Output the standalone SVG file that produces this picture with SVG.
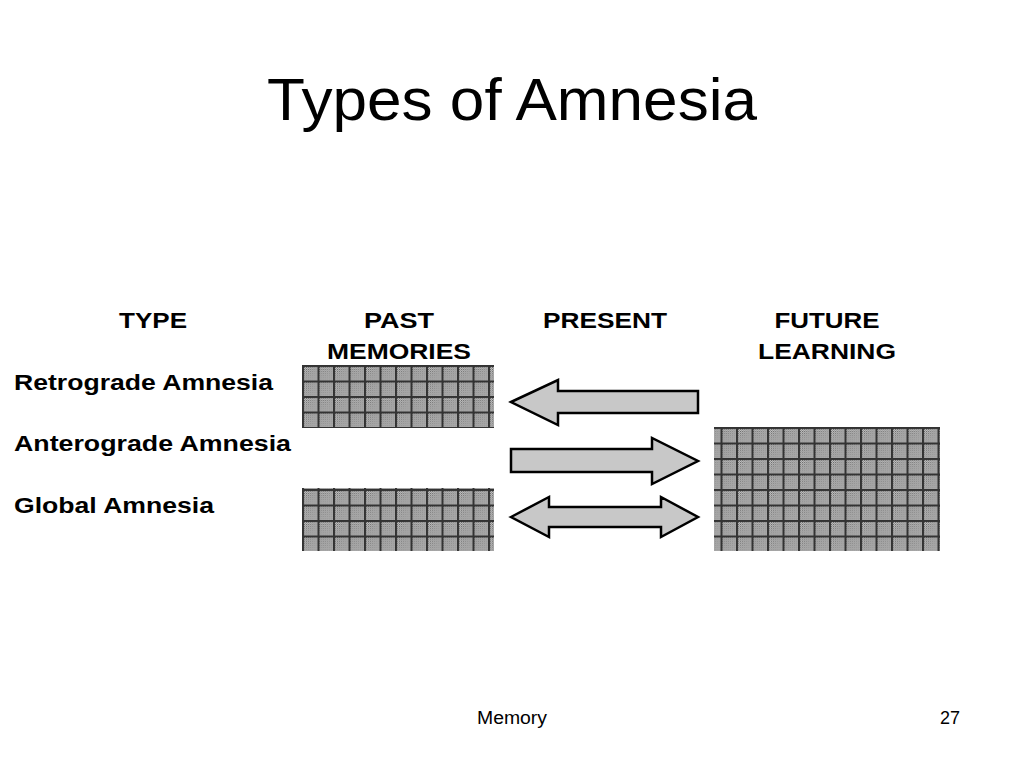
<svg xmlns="http://www.w3.org/2000/svg" width="1024" height="768" viewBox="0 0 1024 768">
<defs>
<pattern id="chk" width="2" height="2" patternUnits="userSpaceOnUse"><rect width="2" height="2" fill="#fff"/><rect width="1" height="1" fill="#444"/><rect x="1" y="1" width="1" height="1" fill="#444"/></pattern>
<pattern id="grid" x="302" y="365" width="15.5" height="15.5" patternUnits="userSpaceOnUse"><rect width="15.5" height="15.5" fill="url(#chk)"/><rect width="2" height="15.5" fill="#333"/><rect width="15.5" height="2" fill="#333"/></pattern>
</defs>
<style>
text{font-family:"Liberation Sans",Arial,sans-serif;fill:#000}
.h{font-size:22px;font-weight:bold;text-anchor:middle}
.l{font-size:22px;font-weight:bold}
.arr{fill:#c8c8c8;stroke:#000;stroke-width:2.5;stroke-linejoin:miter}
.box{fill:url(#grid)}
</style>
<rect width="1024" height="768" fill="#fff"/>
<text x="512" y="120" font-size="60" text-anchor="middle" textLength="490" lengthAdjust="spacingAndGlyphs">Types of Amnesia</text>
<g id="headers">
<text class="h" x="153" y="328" textLength="68" lengthAdjust="spacingAndGlyphs">TYPE</text>
<text class="h" x="399" y="328" textLength="70" lengthAdjust="spacingAndGlyphs">PAST</text>
<text class="h" x="399" y="359" textLength="144" lengthAdjust="spacingAndGlyphs">MEMORIES</text>
<text class="h" x="605" y="328" textLength="124" lengthAdjust="spacingAndGlyphs">PRESENT</text>
<text class="h" x="827" y="328" textLength="105" lengthAdjust="spacingAndGlyphs">FUTURE</text>
<text class="h" x="827" y="359" textLength="138" lengthAdjust="spacingAndGlyphs">LEARNING</text>
</g>
<g id="labels">
<text class="l" x="14" y="390" textLength="259" lengthAdjust="spacingAndGlyphs">Retrograde Amnesia</text>
<text class="l" x="14" y="451" textLength="277" lengthAdjust="spacingAndGlyphs">Anterograde Amnesia</text>
<text class="l" x="14" y="513" textLength="200" lengthAdjust="spacingAndGlyphs">Global Amnesia</text>
</g>
<g id="past-retro"><rect class="box" x="302" y="365" width="192" height="63"/></g>
<g id="past-global"><rect class="box" x="302" y="488" width="192" height="63"/></g>
<g id="future"><rect class="box" x="714" y="427" width="226" height="124"/></g>
<g id="connectors">
<polygon class="arr" points="511,402 558,380 558,391 698,391 698,413 558,413 558,425"/>
<polygon class="arr" points="511,449 652,449 652,438 698,461 652,484 652,472 511,472"/>
<polygon class="arr" points="511,517 549,497 549,507 661,507 661,497 698,517 661,537 661,527 549,527 549,537"/>
</g>
<text x="512" y="724" font-size="18" text-anchor="middle" textLength="70" lengthAdjust="spacingAndGlyphs">Memory</text>
<text x="960" y="724" font-size="18" text-anchor="end">27</text>
</svg>
